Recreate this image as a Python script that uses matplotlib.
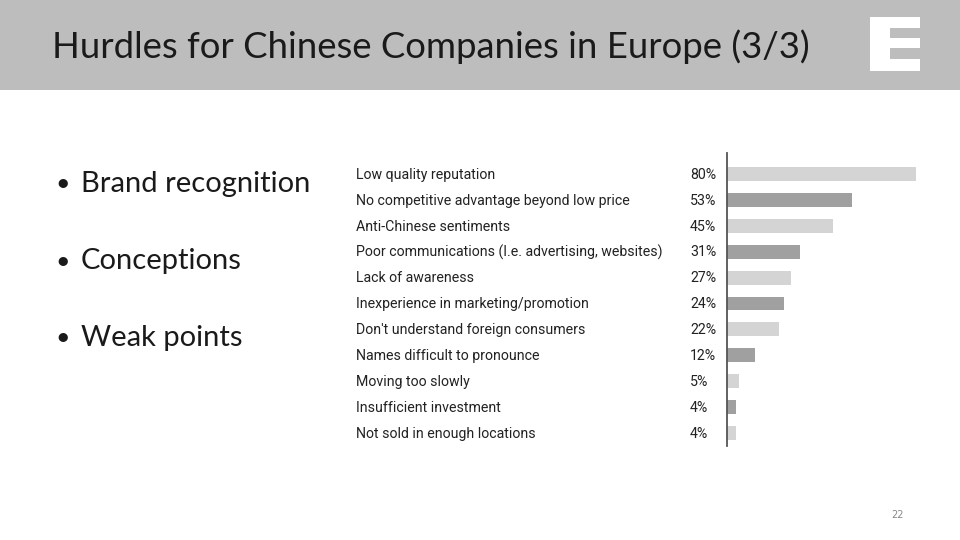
import matplotlib.pyplot as plt
import matplotlib.patches as patches
from matplotlib.transforms import blended_transform_factory

# chart data
reasons = [
    "Low quality reputation",
    "No competitive advantage beyond low price",
    "Anti-Chinese sentiments",
    "Poor communications (I.e. advertising, websites)",
    "Lack of awareness",
    "Inexperience in marketing/promotion",
    "Don't understand foreign consumers",
    "Names difficult to pronounce",
    "Moving too slowly",
    "Insufficient investment",
    "Not sold in enough locations",
]
shares = [80, 53, 45, 31, 27, 24, 22, 12, 5, 4, 4]

title = "Hurdles for Chinese Companies in Europe (3/3)"
bullets = ["Brand recognition", "Conceptions", "Weak points"]
page_no = "22"

W, H = 960, 540
fig = plt.figure(figsize=(W / 100, H / 100), dpi=100)
fig.patch.set_facecolor("white")

# header band
fig.add_artist(patches.Rectangle((0, 1 - 90 / H), 1, 90 / H, transform=fig.transFigure,
                                 facecolor="#bdbdbd", edgecolor="none"))
fig.text(52 / W, 1 - 47 / H, title, fontsize=26.3, color="#1a1a1a", family="Lato",
         va="center", ha="left")

# "E" logo
def px_rect(x0, y0, x1, y1, color):
    fig.add_artist(patches.Rectangle((x0 / W, 1 - y1 / H), (x1 - x0) / W, (y1 - y0) / H,
                                     transform=fig.transFigure, facecolor=color, edgecolor="none"))

px_rect(870, 17, 920, 71, "white")
px_rect(890, 28, 921, 38, "#bdbdbd")
px_rect(890, 48, 921, 59, "#bdbdbd")

# bullets
for i, b in enumerate(bullets):
    y = 1 - (184 + 77 * i) / H
    fig.text(55 / W, y, "\u2022", fontsize=18, color="#1a1a1a", family="Lato", va="center")
    fig.text(81 / W, y, b, fontsize=21, color="#1a1a1a", family="Lato", va="center")

# bar chart
top_px, bot_px = 153, 446
row0, step = 174, 25.9
ax = fig.add_axes([727 / W, 1 - bot_px / H, (916 - 727) / W, (bot_px - top_px) / H])
n = len(reasons)
colors = ["#d4d4d4" if i % 2 == 0 else "#a0a0a0" for i in range(n)]
ax.barh(range(n), shares, height=0.54, color=colors, left=0)
ax.set_xlim(0, 80)
ax.set_ylim(n - 1 + (bot_px - 433) / step, -(row0 - top_px) / step)
for s in ["top", "right", "bottom"]:
    ax.spines[s].set_visible(False)
ax.spines["left"].set_color("#555555")
ax.spines["left"].set_linewidth(1.3)
ax.set_xticks([])
ax.set_yticks([])

tr = blended_transform_factory(fig.transFigure, ax.transData)
for i, (r, s) in enumerate(zip(reasons, shares)):
    ax.text(356 / W, i + 0.03, r, transform=tr, fontsize=10.2, color="#222222",
            family="Roboto", va="center", ha="left")
    ax.text(690 / W, i + 0.03, f"{s}%", transform=tr, fontsize=10.2, color="#222222",
            family="Roboto", va="center", ha="left")

fig.text(898 / W, 1 - 515 / H, page_no, fontsize=7, color="#888888", ha="center", va="center")

fig.savefig("out.png", dpi=100)
